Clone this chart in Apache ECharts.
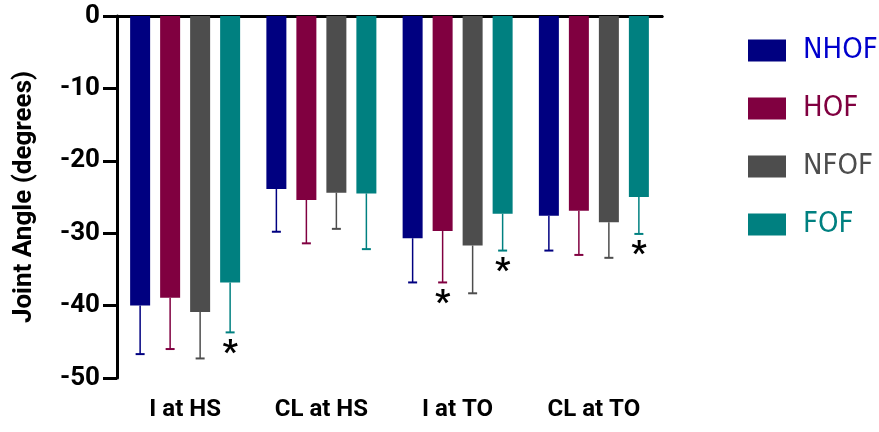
<!DOCTYPE html>
<html>
<head>
<meta charset="utf-8">
<script src="https://cdn.jsdelivr.net/npm/echarts@6/dist/echarts.min.js"></script>
<style>
	html, body { margin: 0; padding: 0; background: #fff; }
	#chart { width: 879px; height: 432px; }
</style>
</head>
<body>
<div id="chart"></div>
<script>
const categories = ['I at HS', 'CL at HS', 'I at TO', 'CL at TO'];
const groupNames = ['NHOF', 'HOF', 'NFOF', 'FOF'];

// mean joint angle and the one-sided error (downwards)
const nhofMean = [-40.0, -23.9, -30.7, -27.6];
const nhofErr = [6.7, 5.9, 6.1, 4.8];
const hofMean = [-38.9, -25.4, -29.7, -26.9];
const hofErr = [7.1, 6.0, 7.1, 6.1];
const nfofMean = [-40.9, -24.4, -31.7, -28.5];
const nfofErr = [6.4, 5.0, 6.6, 4.9];
const fofMean = [-36.8, -24.5, -27.3, -25.0];
const fofErr = [6.9, 7.7, 5.1, 5.1];

// significance marks (*)
const nhofStar = [0, 0, 0, 0];
const hofStar = [0, 0, 1, 0];
const nfofStar = [0, 0, 0, 0];
const fofStar = [1, 0, 1, 1];

const yTicks = [-50, -40, -30, -20, -10, 0];

const colors = ['#000080', '#800040', '#4d4d4d', '#008080'];
const legendColors = ['#0000cd', '#800040', '#4d4d4d', '#008080'];
const font = 'Roboto';
const narrowFont = "'Liberation Sans Narrow', 'DejaVu Sans Condensed', Roboto";

const groups = [
	{ mean: nhofMean, err: nhofErr, star: nhofStar },
	{ mean: hofMean, err: hofErr, star: hofStar },
	{ mean: nfofMean, err: nfofErr, star: nfofStar },
	{ mean: fofMean, err: fofErr, star: fofStar },
];

const barWidth = 20;
const barStep = 30;

const series = [];
groups.forEach((g, i) => {
	series.push({
		name: groupNames[i],
		type: 'bar',
		data: g.mean,
		barWidth: barWidth,
		barGap: '50%',
		itemStyle: { color: colors[i] },
		z: 2,
	});
});

groups.forEach((g, i) => {
	const offset = (i - 1.5) * barStep;
	series.push({
		name: 'err_' + groupNames[i],
		type: 'custom',
		z: 3,
		data: g.mean.map((m, k) => [k, m, g.err[k], g.star[k]]),
		encode: { x: 0, y: 1 },
		renderItem: (params, api) => {
			const top = api.coord([api.value(0), api.value(1)]);
			const low = api.coord([api.value(0), api.value(1) - api.value(2)]);
			const x = top[0] + offset;
			const children = [
				{
					type: 'line',
					shape: { x1: x, y1: top[1], x2: x, y2: low[1] },
					style: { stroke: colors[i], lineWidth: 1.5 },
				},
				{
					type: 'line',
					shape: { x1: x - 4.5, y1: low[1], x2: x + 4.5, y2: low[1] },
					style: { stroke: colors[i], lineWidth: 2 },
				},
			];
			if(api.value(3)){
				children.push({
					type: 'text',
					style: {
						text: '*',
						x: x,
						y: low[1] + 5,
						align: 'center',
						verticalAlign: 'top',
						fill: '#000',
						font: 'bold 34px ' + font,
					},
				});
			}
			return { type: 'group', children: children };
		},
	});
});

const chart = echarts.init(document.getElementById('chart'));
chart.setOption({
	animation: false,
	grid: {
		left: 117,
		right: 217,
		top: 16,
		bottom: 54,
	},
	legend: {
		orient: 'vertical',
		left: 743,
		top: 31,
		itemWidth: 38,
		itemHeight: 22,
		itemGap: 29,
		icon: 'rect',
		textStyle: {
			fontFamily: narrowFont,
			fontSize: 29,
			lineHeight: 22,
			padding: [0, 0, 0, 12],
		},
		data: groupNames.map((n, i) => ({
			name: n,
			itemStyle: { color: colors[i] },
			textStyle: { color: legendColors[i] },
		})),
	},
	xAxis: [
		{
			type: 'category',
			data: categories,
			position: 'bottom',
			axisLine: { lineStyle: { color: '#000', width: 3 } },
			axisTick: { alignWithLabel: true, length: 14, lineStyle: { color: '#000', width: 3 } },
			axisLabel: {
				color: '#000',
				fontFamily: font,
				fontWeight: 'bold',
				fontSize: 24,
				margin: 20,
			},
		},
		{
			type: 'category',
			data: categories,
			position: 'top',
			axisLine: { lineStyle: { color: '#000', width: 3 } },
			axisTick: { show: false },
			axisLabel: { show: false },
		},
	],
	yAxis: {
		type: 'value',
		min: yTicks[0],
		max: yTicks[yTicks.length - 1],
		interval: 10,
		name: 'Joint Angle (degrees)',
		nameLocation: 'middle',
		nameGap: 80,
		nameTextStyle: {
			color: '#000',
			fontFamily: font,
			fontWeight: 'bold',
			fontSize: 26,
		},
		axisLine: { show: true, lineStyle: { color: '#000', width: 3 } },
		axisTick: { show: true, length: 14, lineStyle: { color: '#000', width: 3 } },
		axisLabel: {
			color: '#000',
			fontFamily: font,
			fontWeight: 'bold',
			fontSize: 26,
			margin: 17,
		},
		splitLine: { show: false },
	},
	series: series,
});
</script>
</body>
</html>
